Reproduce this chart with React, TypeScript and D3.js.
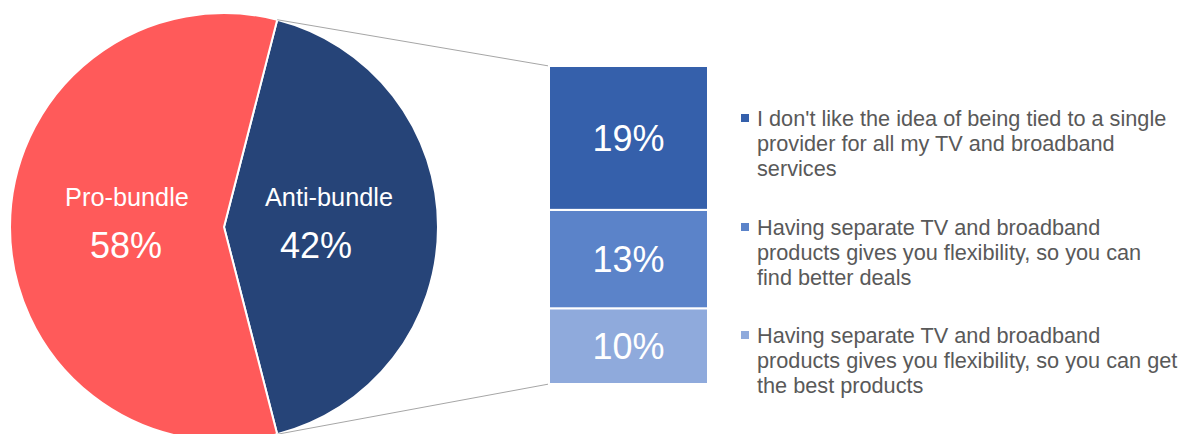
import React from "react";
import * as d3 from "d3";

const pieCategories = ["Anti-bundle", "Pro-bundle"];
const pieValues = [42, 58];
const pieColors = ["#264478", "#FF5A5A"];

const barCategories = [
  "I don't like the idea of being tied to a single provider for all my TV and broadband services",
  "Having separate TV and broadband products gives you flexibility, so you can find better deals",
  "Having separate TV and broadband products gives you flexibility, so you can get the best products",
];
const barValues = [19, 13, 10];
const barColors = ["#3560AB", "#5B83C9", "#8FAADC"];
const legendLines = [
  ["I don't like the idea of being tied to a single", "provider for all my TV and broadband", "services"],
  ["Having separate TV and broadband", "products gives you flexibility, so you can", "find better deals"],
  ["Having separate TV and broadband", "products gives you flexibility, so you can get", "the best products"],
];

const W = 1184;
const H = 434;
const FONT = "'Liberation Sans', Arial, sans-serif";

export default function App() {
  const cx = 224, cy = 227, r = 214;
  const antiFrac = pieValues[0] / d3.sum(pieValues);
  const start = Math.PI / 2 - antiFrac * Math.PI;
  const pie = d3.pie<number>().sort(null).startAngle(start).endAngle(start + 2 * Math.PI);
  const arcs = pie(pieValues);
  const arc = d3.arc<d3.PieArcDatum<number>>().innerRadius(0).outerRadius(r);
  const labelArc = d3.arc<d3.PieArcDatum<number>>().innerRadius(98).outerRadius(98);

  const total = d3.sum(barValues);
  const y = d3.scaleLinear().domain([0, total]).range([384, 66]);
  const barX0 = 549, barX1 = 708;
  const segs: { i: number; y0: number; y1: number }[] = [];
  let acc = 0;
  for (let i = barValues.length - 1; i >= 0; i--) {
    segs.push({ i, y0: acc, y1: acc + barValues[i] });
    acc += barValues[i];
  }

  const a0 = arcs[0].startAngle, a1 = arcs[0].endAngle;
  const pTop = [cx + r * Math.sin(a0), cy - r * Math.cos(a0)];
  const pBot = [cx + r * Math.sin(a1), cy - r * Math.cos(a1)];

  const legendBase = [126, 235, 343];

  return (
    <svg width={W} height={H} style={{ position: "absolute", left: 0, top: 0 }} fontFamily={FONT}>
      <rect width={W} height={H} fill="#fff" />
      {arcs.map((a, i) => (
        <path key={i} d={arc(a) || ""} transform={`translate(${cx},${cy})`} fill={pieColors[i]} stroke="#fff" strokeWidth={2} />
      ))}
      {arcs.map((a, i) => {
        const [lx] = labelArc.centroid(a);
        return (
          <g key={"l" + i} fill="#fff" textAnchor="middle">
            <text x={cx + lx + (i === 0 ? 7 : 1)} y={206} fontSize={25.3}>{pieCategories[i]}</text>
            <text x={cx + lx + (i === 0 ? -6 : 0)} y={258} fontSize={36}>{pieValues[i]}%</text>
          </g>
        );
      })}
      <line x1={pTop[0]} y1={pTop[1]} x2={barX0} y2={y(total)} stroke="#A6A6A6" strokeWidth={1} />
      <line x1={pBot[0]} y1={pBot[1]} x2={barX0} y2={y(0)} stroke="#A6A6A6" strokeWidth={1} />
      {segs.map((s) => (
        <g key={"b" + s.i}>
          <rect x={barX0} y={y(s.y1)} width={barX1 - barX0} height={y(s.y0) - y(s.y1)} fill={barColors[s.i]} stroke="#fff" strokeWidth={2} />
          <text x={(barX0 + barX1) / 2} y={(y(s.y0) + y(s.y1)) / 2 + 13} fill="#fff" fontSize={36} textAnchor="middle">
            {barValues[s.i]}%
          </text>
        </g>
      ))}
      {legendLines.map((lines, i) => (
        <g key={"lg" + i}>
          <rect x={741} y={legendBase[i] - 12} width={8} height={8} fill={barColors[i]} />
          {lines.map((t, j) => (
            <text key={j} x={757} y={legendBase[i] + j * 25} fontSize={21.7} fill="#595959">{t}</text>
          ))}
        </g>
      ))}
    </svg>
  );
}
